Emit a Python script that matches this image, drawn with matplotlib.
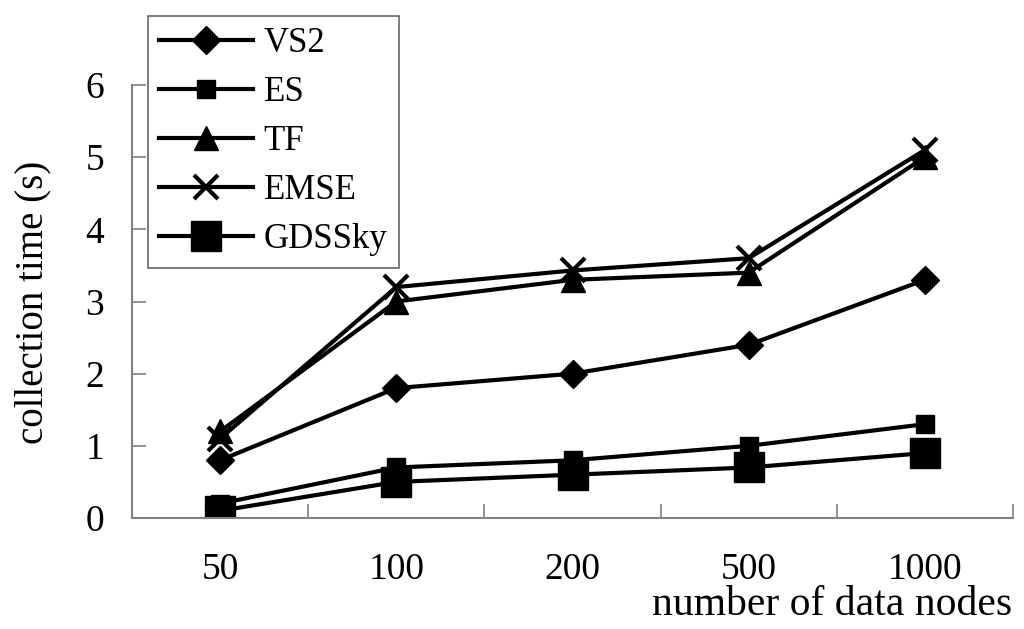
import matplotlib
matplotlib.use("Agg")
import matplotlib.pyplot as plt
import numpy as np

categories = ["50", "100", "200", "500", "1000"]
vs2 = [0.8, 1.8, 2.0, 2.4, 3.3]
es = [0.2, 0.7, 0.8, 1.0, 1.3]
tf = [1.2, 3.0, 3.3, 3.4, 5.0]
emse = [1.1, 3.2, 3.43, 3.6, 5.1]
gdssky = [0.1, 0.5, 0.6, 0.7, 0.9]
y_ticks = [0, 1, 2, 3, 4, 5, 6]

serif = ["Liberation Serif", "DejaVu Serif"]

fig = plt.figure(figsize=(10.24, 6.29), dpi=100)
ax = fig.add_axes([132/1024, 1 - 518/629, (1013 - 132)/1024, (518 - 85)/629])

x = np.arange(len(categories))
lw = 3
ax.plot(x, vs2, color="black", lw=lw, marker="D", ms=14, label="VS2")
ax.plot(x, es, color="black", lw=lw, marker="s", ms=13, label="ES")
ax.plot(x, tf, color="black", lw=lw, marker="^", ms=17, label="TF")
ax.plot(x, emse, color="black", lw=lw, marker="x", ms=17, mew=3, label="EMSE")
ax.plot(x, gdssky, color="black", lw=lw, marker="s", ms=22, label="GDSSky")

ax.set_xlim(-0.5, len(categories) - 0.5)
ax.set_ylim(0, 6)
ax.set_yticks(y_ticks)
ax.set_yticklabels([str(t) for t in y_ticks], fontfamily=serif, fontsize=27)
ax.set_xticks(x)
ax.set_xticklabels(categories, fontfamily=serif, fontsize=27)
ax.set_xticks(np.arange(len(categories)) + 0.5, minor=True)
ax.tick_params(axis="x", which="major", length=0, pad=25)
ax.tick_params(axis="x", which="minor", direction="in", length=10, width=1.2, color="#808080")
ax.tick_params(axis="y", which="major", direction="in", length=10, width=1.2, color="#808080", pad=20)

for s in ["top", "right"]:
    ax.spines[s].set_visible(False)
for s in ["left", "bottom"]:
    ax.spines[s].set_color("#808080")
    ax.spines[s].set_linewidth(1.5)

fig.text(1012/1024, 1 - 605/629, "number of data nodes", ha="right", va="center",
         fontfamily=serif, fontsize=30)
fig.text(33/1024, 1 - 302/629, "collection time (s)", ha="center", va="center",
         rotation=90, fontfamily=serif, fontsize=28)

leg = ax.legend(loc="upper left", bbox_to_anchor=(148/1024, 1 - 16/629),
                bbox_transform=fig.transFigure, prop={"family": serif, "size": 25},
                frameon=True, fancybox=False, handlelength=2.7, borderaxespad=0,
                labelspacing=0.46, borderpad=0.33, handletextpad=0.3, markerscale=1.0)
leg.get_frame().set_edgecolor("#404040")
leg.get_frame().set_linewidth(1.2)

fig.savefig("out.png", dpi=100)
